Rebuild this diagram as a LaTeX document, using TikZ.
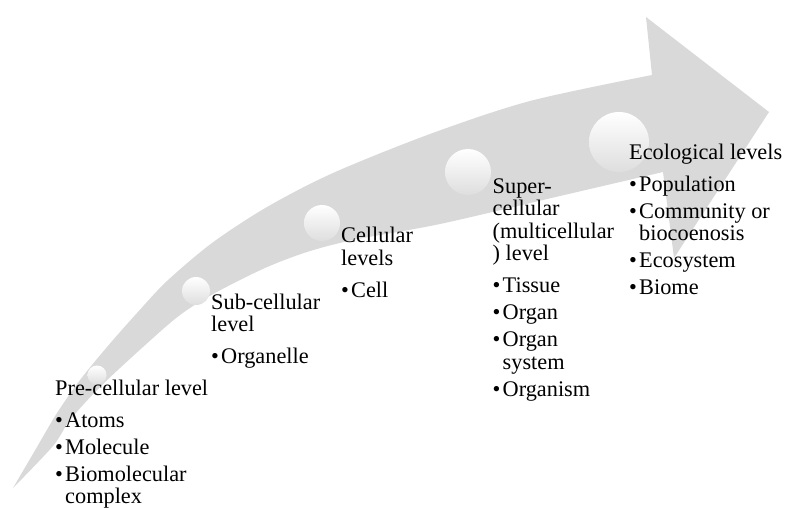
\documentclass[tikz,border=0pt]{standalone}
\usepackage{fontspec}
\setmainfont{Liberation Serif}
\definecolor{arrowgray}{RGB}{217,217,217}
\definecolor{ballshade}{RGB}{222,222,222}
\newcommand\bul{\makebox[10pt][l]{•}}
\newcommand\ind{\hspace*{10pt}}
\begin{document}
\begin{tikzpicture}[x=1pt,y=-1pt,
  lvl/.style={anchor=base west, inner sep=0pt, font=\fontsize{22.3}{22.5}\selectfont},
  ball/.style={circle, inner sep=0pt, draw=none, top color=white, middle color=white, bottom color=ballshade}]
\useasboundingbox (0,0) rectangle (785,507);
% curved arrow
\fill[arrowgray]
  plot[smooth, tension=0.5] coordinates {(13,488) (37,447) (57,413) (80,380) (107,347) (137,313) (167,281) (212,243) (267,207) (333,173) (430,134) (530,101) (652,75)}
  -- (646,17) -- (769,112) -- (674,258) -- (663,172)
  -- plot[smooth, tension=0.5] coordinates {(663,172) (560,196) (440,224) (353,240) (307,252) (265,268) (215,293) (180,315) (143,347) (100,387) (70,420) (53,446) (13,488)}
  -- cycle;
% circles
\node[ball, minimum size=19pt] (c1) at (97,375) {};
\node[ball, minimum size=28pt] (c2) at (196,291) {};
\node[ball, minimum size=36pt] (c3) at (322,223) {};
\node[ball, minimum size=46pt] (c4) at (468,172) {};
\node[ball, minimum size=60pt] (c5) at (619,142) {};
% texts
\node[lvl] (pre) at (55,395) {\begin{tabular}[t]{@{}l@{}}Pre-cellular level\\[9.5pt] \bul Atoms\\[4.5pt] \bul Molecule\\[4.5pt] \bul Biomolecular\\ \ind complex\end{tabular}};
\node[lvl] (sub) at (211,309) {\begin{tabular}[t]{@{}l@{}}Sub-cellular\\ level\\[9.5pt] \bul Organelle\end{tabular}};
\node[lvl] (cel) at (341,242.5) {\begin{tabular}[t]{@{}l@{}}Cellular\\ levels\\[9.5pt] \bul Cell\end{tabular}};
\node[lvl] (sup) at (492.5,193) {\begin{tabular}[t]{@{}l@{}}Super-\\ cellular\\ (multicellular\\ ) level\\[9.5pt] \bul Tissue\\[4.5pt] \bul Organ\\[4.5pt] \bul Organ\\ \ind system\\[4.5pt] \bul Organism\end{tabular}};
\node[lvl] (eco) at (629,159) {\begin{tabular}[t]{@{}l@{}}Ecological levels\\[9.5pt] \bul Population\\[4.5pt] \bul Community or\\ \ind biocoenosis\\[4.5pt] \bul Ecosystem\\[4.5pt] \bul Biome\end{tabular}};
\end{tikzpicture}
\end{document}
